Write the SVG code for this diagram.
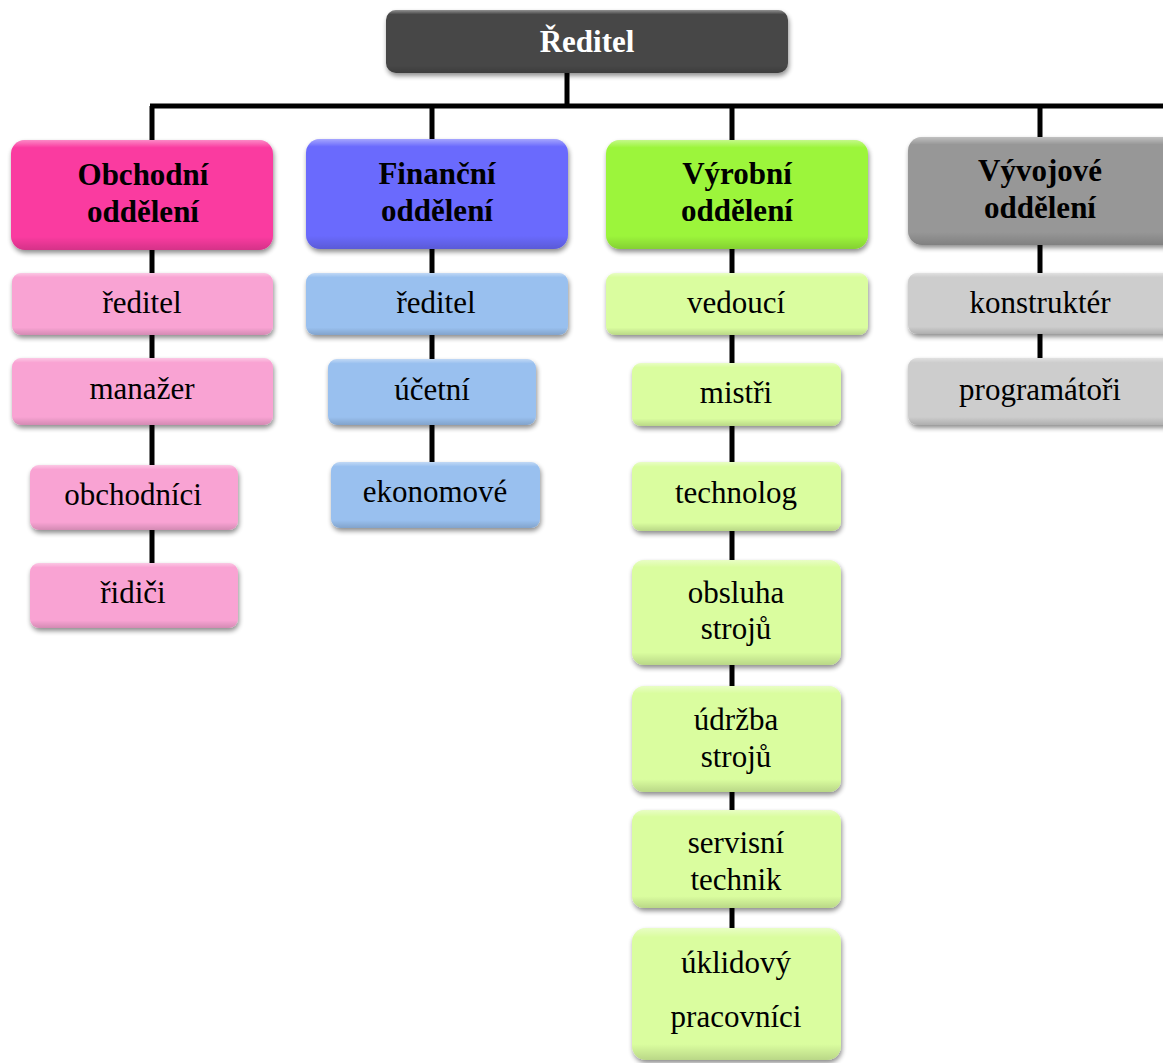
<svg xmlns="http://www.w3.org/2000/svg" width="1163" height="1063" viewBox="0 0 1163 1063">
<defs>
<filter id="sh" x="-10%" y="-10%" width="120%" height="130%">
<feGaussianBlur in="SourceAlpha" stdDeviation="2.5"/>
<feOffset dx="1" dy="3" result="b"/>
<feComponentTransfer><feFuncA type="linear" slope="0.45"/></feComponentTransfer>
<feMerge><feMergeNode/><feMergeNode in="SourceGraphic"/></feMerge>
</filter>
<linearGradient id="bev" x1="0" y1="0" x2="0" y2="1">
<stop offset="0" stop-color="#fff" stop-opacity="0.4"/>
<stop offset="0.07" stop-color="#fff" stop-opacity="0"/>
<stop offset="0.88" stop-color="#000" stop-opacity="0"/>
<stop offset="1" stop-color="#000" stop-opacity="0.15"/>
</linearGradient>
</defs>
<style>
.b{filter:url(#sh)}
.g{fill:url(#bev)}
.t{font-family:"Liberation Serif","Times New Roman",serif;font-size:31px;fill:#000;text-anchor:middle}
.h{font-family:"Liberation Serif","Times New Roman",serif;font-size:31px;font-weight:bold;fill:#000;text-anchor:middle}
.root{fill:#474747}
.c1{fill:#FA3AA0}.c1s{fill:#F9A3D3}
.c2{fill:#6B6BFD}.c2s{fill:#99C0EF}
.c3{fill:#9CF53A}.c3s{fill:#DAFD9F}
.c4{fill:#979797}.c4s{fill:#CDCDCD}
.ln{stroke:#000;stroke-width:5;fill:none}
</style>
<rect width="1163" height="1063" fill="#fff"/>
<g id="connectors">
<path class="ln" d="M567 73V106M150 106H1163"/>
<path class="ln" d="M152 106V565"/>
<path class="ln" d="M432 106V464"/>
<path class="ln" d="M732 106V930"/>
<path class="ln" d="M1040 106V360"/>
</g>
<g id="n-root"><rect class="b root" x="386" y="10" width="402" height="63" rx="10"/><rect class="g" x="386" y="10" width="402" height="63" rx="10"/><text class="h" x="587" y="52" style="fill:#fff">Ředitel</text></g>

<g id="n-obchodni"><rect class="b c1" x="11" y="140" width="262" height="110" rx="14"/><rect class="g" x="11" y="140" width="262" height="110" rx="14"/><text class="h" x="143" y="185">Obchodní</text><text class="h" x="143" y="222">oddělení</text></g>
<g id="n-o-reditel"><rect class="b c1s" x="12" y="273" width="261" height="62" rx="9"/><rect class="g" x="12" y="273" width="261" height="62" rx="9"/><text class="t" x="142" y="313">ředitel</text></g>
<g id="n-o-manazer"><rect class="b c1s" x="12" y="358" width="261" height="67" rx="9"/><rect class="g" x="12" y="358" width="261" height="67" rx="9"/><text class="t" x="142" y="399">manažer</text></g>
<g id="n-o-obchodnici"><rect class="b c1s" x="30" y="465" width="208" height="65" rx="9"/><rect class="g" x="30" y="465" width="208" height="65" rx="9"/><text class="t" x="133" y="505">obchodníci</text></g>
<g id="n-o-ridici"><rect class="b c1s" x="30" y="563" width="208" height="65" rx="9"/><rect class="g" x="30" y="563" width="208" height="65" rx="9"/><text class="t" x="133" y="603">řidiči</text></g>

<g id="n-financni"><rect class="b c2" x="306" y="139" width="262" height="110" rx="14"/><rect class="g" x="306" y="139" width="262" height="110" rx="14"/><text class="h" x="437" y="184">Finanční</text><text class="h" x="437" y="221">oddělení</text></g>
<g id="n-f-reditel"><rect class="b c2s" x="306" y="273" width="262" height="62" rx="9"/><rect class="g" x="306" y="273" width="262" height="62" rx="9"/><text class="t" x="436" y="313">ředitel</text></g>
<g id="n-f-ucetni"><rect class="b c2s" x="328" y="359" width="208" height="66" rx="9"/><rect class="g" x="328" y="359" width="208" height="66" rx="9"/><text class="t" x="432" y="400">účetní</text></g>
<g id="n-f-ekonomove"><rect class="b c2s" x="331" y="462" width="209" height="66" rx="9"/><rect class="g" x="331" y="462" width="209" height="66" rx="9"/><text class="t" x="435" y="502">ekonomové</text></g>

<g id="n-vyrobni"><rect class="b c3" x="606" y="140" width="262" height="109" rx="14"/><rect class="g" x="606" y="140" width="262" height="109" rx="14"/><text class="h" x="737" y="184">Výrobní</text><text class="h" x="737" y="221">oddělení</text></g>
<g id="n-v-vedouci"><rect class="b c3s" x="606" y="273" width="262" height="62" rx="9"/><rect class="g" x="606" y="273" width="262" height="62" rx="9"/><text class="t" x="736" y="313">vedoucí</text></g>
<g id="n-v-mistri"><rect class="b c3s" x="632" y="363" width="209" height="63" rx="9"/><rect class="g" x="632" y="363" width="209" height="63" rx="9"/><text class="t" x="736" y="403">mistři</text></g>
<g id="n-v-technolog"><rect class="b c3s" x="632" y="462" width="209" height="69" rx="9"/><rect class="g" x="632" y="462" width="209" height="69" rx="9"/><text class="t" x="736" y="503">technolog</text></g>
<g id="n-v-obsluha"><rect class="b c3s" x="632" y="560" width="209" height="105" rx="12"/><rect class="g" x="632" y="560" width="209" height="105" rx="12"/><text class="t" x="736" y="603">obsluha</text><text class="t" x="736" y="639">strojů</text></g>
<g id="n-v-udrzba"><rect class="b c3s" x="632" y="686" width="209" height="106" rx="12"/><rect class="g" x="632" y="686" width="209" height="106" rx="12"/><text class="t" x="736" y="730">údržba</text><text class="t" x="736" y="767">strojů</text></g>
<g id="n-v-servisni"><rect class="b c3s" x="632" y="810" width="209" height="98" rx="12"/><rect class="g" x="632" y="810" width="209" height="98" rx="12"/><text class="t" x="736" y="853">servisní</text><text class="t" x="736" y="890">technik</text></g>
<g id="n-v-uklidovy"><rect class="b c3s" x="632" y="928" width="209" height="132" rx="14"/><rect class="g" x="632" y="928" width="209" height="132" rx="14"/><text class="t" x="736" y="973">úklidový</text><text class="t" x="736" y="1027">pracovníci</text></g>

<g id="n-vyvojove"><rect class="b c4" x="908" y="137" width="270" height="108" rx="14"/><rect class="g" x="908" y="137" width="270" height="108" rx="14"/><text class="h" x="1040" y="181">Vývojové</text><text class="h" x="1040" y="218">oddělení</text></g>
<g id="n-d-konstrukter"><rect class="b c4s" x="908" y="273" width="270" height="61" rx="9"/><rect class="g" x="908" y="273" width="270" height="61" rx="9"/><text class="t" x="1040" y="313">konstruktér</text></g>
<g id="n-d-programatori"><rect class="b c4s" x="908" y="358" width="270" height="67" rx="9"/><rect class="g" x="908" y="358" width="270" height="67" rx="9"/><text class="t" x="1040" y="400">programátoři</text></g>
</svg>
